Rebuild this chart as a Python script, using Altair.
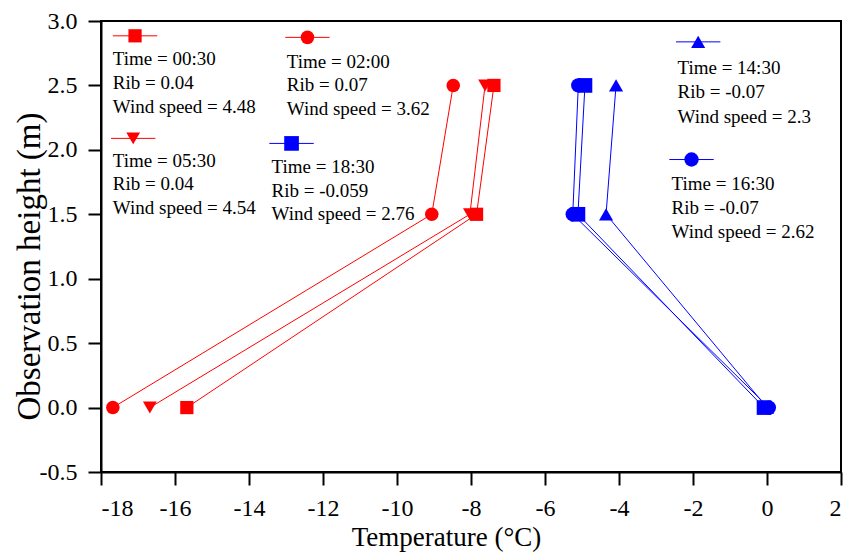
import altair as alt
import pandas as pd

# ---- data ----
times = ["00:30", "02:00", "05:30", "14:30", "16:30", "18:30"]
heights = [0.0, 1.5, 2.5]
temp_0030 = [-15.68, -7.85, -7.38]
temp_0200 = [-17.68, -9.06, -8.48]
temp_0530 = [-16.68, -8.03, -7.62]
temp_1430 = [0.00, -4.35, -4.08]
temp_1630 = [0.05, -5.25, -5.10]
temp_1830 = [-0.08, -5.11, -4.92]
rib = ["0.04", "0.07", "0.04", "-0.07", "-0.07", "-0.059"]
wind = ["4.48", "3.62", "4.54", "2.3", "2.62", "2.76"]

# ---- styles ----
series_colors = ["#ff0000", "#ff0000", "#ff0000", "#0000ff", "#0000ff", "#0000ff"]
series_shapes = ["square", "circle", "triangle-down", "triangle-up", "circle", "square"]
series_sizes = [175, 215, 320, 320, 215, 175]

# ---- annotation (legend box) layout, data coordinates ----
leg_sym_x = [-17.08, -12.42, -17.13, -1.86, -2.04, -12.85]
leg_sym_y = [2.885, 2.873, 2.089, 2.838, 1.925, 2.05]
leg_half = 0.6
leg_text_x = [-17.68, -12.98, -17.68, -2.42, -2.58, -13.39]
leg_text_y = [
    [2.704, 2.517, 2.331],
    [2.683, 2.502, 2.314],
    [1.915, 1.734, 1.545],
    [2.632, 2.450, 2.256],
    [1.734, 1.550, 1.363],
    [1.868, 1.682, 1.506],
]

FONT = "Liberation Serif"

all_temps = [temp_0030, temp_0200, temp_0530, temp_1430, temp_1630, temp_1830]
rows = []
for t, temps in zip(times, all_temps):
    for h, v in zip(heights, temps):
        rows.append({"time": t, "height": h, "temp": v})
df = pd.DataFrame(rows)

leg_rows = []
txt_rows = []
for i, t in enumerate(times):
    leg_rows.append({"time": t, "sx": leg_sym_x[i], "sy": leg_sym_y[i],
                     "x1": leg_sym_x[i] - leg_half, "x2": leg_sym_x[i] + leg_half})
    lines = [f"Time = {t}", f"Rib = {rib[i]}", f"Wind speed = {wind[i]}"]
    for j, s in enumerate(lines):
        txt_rows.append({"x": leg_text_x[i], "y": leg_text_y[i][j], "text": s})
leg_df = pd.DataFrame(leg_rows)
txt_df = pd.DataFrame(txt_rows)

x_scale = alt.Scale(domain=[-18, 2], nice=False, zero=False)
y_scale = alt.Scale(domain=[-0.5, 3.0], nice=False, zero=False)
color_scale = alt.Scale(domain=times, range=series_colors)
shape_scale = alt.Scale(domain=times, range=series_shapes)
size_scale = alt.Scale(domain=times, range=series_sizes)

common_axis = dict(
    grid=False,
    domainColor="black",
    domainWidth=2,
    tickColor="black",
    tickWidth=2,
    labelFont=FONT,
    labelFontSize=24,
    labelColor="black",
    titleFont=FONT,
    titleFontWeight="normal",
    titleColor="black",
    titleAlign="center",
    titleBaseline="middle",
)

x_axis = alt.Axis(
    values=list(range(-18, 3)),
    labelExpr="datum.value % 2 === 0 ? (datum.value < 0 ? '-' : '') + format(abs(datum.value), 'd') : ''",
    tickSize={"condition": {"test": "datum.value % 2 === 0", "value": 13}, "value": 7},
    title="Temperature (°C)",
    titleFontSize=27,
    labelPadding=11,
    titleX=345,
    titleY=65,
    **common_axis,
)
y_axis = alt.Axis(
    values=[-0.5 + 0.25 * i for i in range(15)],
    labelExpr="datum.value % 0.5 === 0 ? (datum.value < 0 ? '-' : '') + format(abs(datum.value), '.1f') : ''",
    tickSize={"condition": {"test": "datum.value % 0.5 === 0", "value": 13}, "value": 7},
    title="Observation height (m)",
    titleFontSize=33,
    labelPadding=11,
    titleX=-72,
    titleY=245,
    **common_axis,
)

lines = alt.Chart(df).mark_line(strokeWidth=1).encode(
    x=alt.X("temp:Q", scale=x_scale, axis=x_axis),
    y=alt.Y("height:Q", scale=y_scale, axis=y_axis),
    color=alt.Color("time:N", scale=color_scale, legend=None),
    detail="time:N",
    order=alt.Order("height:Q"),
)

points = alt.Chart(df).mark_point(filled=True, opacity=1).encode(
    x="temp:Q",
    y="height:Q",
    color=alt.Color("time:N", scale=color_scale, legend=None),
    shape=alt.Shape("time:N", scale=shape_scale, legend=None),
    size=alt.Size("time:N", scale=size_scale, legend=None),
)

leg_lines = alt.Chart(leg_df).mark_rule(strokeWidth=1).encode(
    x="x1:Q", x2="x2:Q", y="sy:Q",
    color=alt.Color("time:N", scale=color_scale, legend=None),
)
leg_pts = alt.Chart(leg_df).mark_point(filled=True, opacity=1).encode(
    x="sx:Q", y="sy:Q",
    color=alt.Color("time:N", scale=color_scale, legend=None),
    shape=alt.Shape("time:N", scale=shape_scale, legend=None),
    size=alt.Size("time:N", scale=size_scale, legend=None),
)
leg_text = alt.Chart(txt_df).mark_text(
    align="left", baseline="middle", font=FONT, fontSize=19, color="black"
).encode(x="x:Q", y="y:Q", text="text:N")

chart = (
    alt.layer(lines, points, leg_lines, leg_pts, leg_text)
    .properties(
        width=740,
        height=451,
        autosize=alt.AutoSizeParams(type="none"),
        padding={"left": 93, "top": 13, "right": 2, "bottom": 80},
        background="white",
    )
    .configure_view(stroke="black", strokeWidth=2)
)

chart.save("out.html", embed_options={"renderer": "svg", "actions": False})
